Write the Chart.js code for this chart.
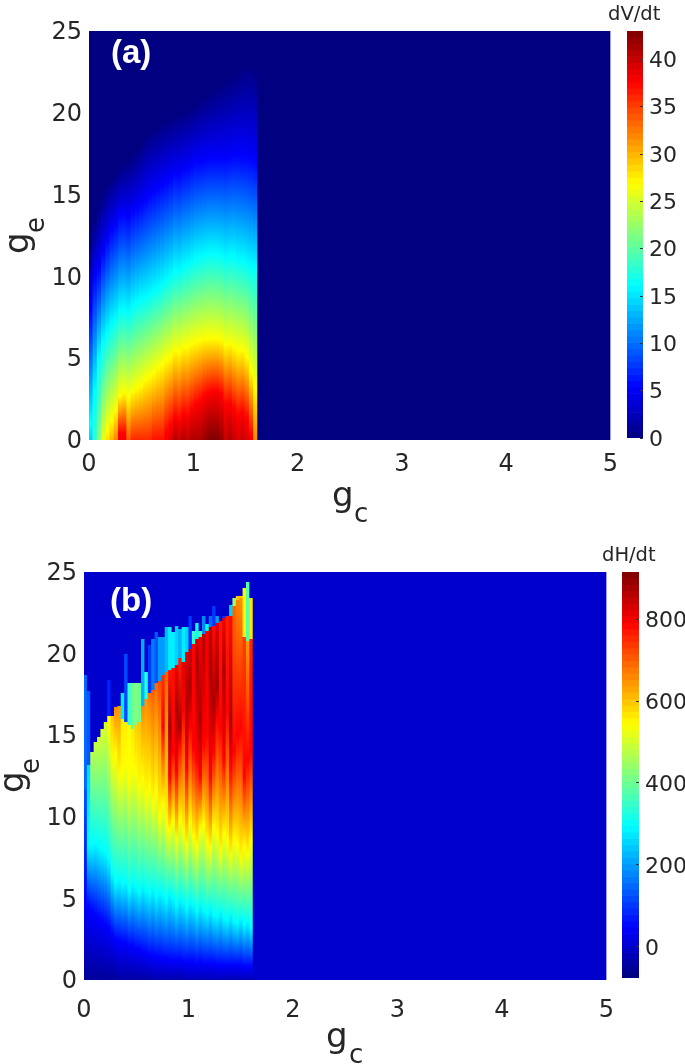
<!DOCTYPE html>
<html>
<head>
<meta charset="utf-8">
<script src="https://cdn.jsdelivr.net/npm/chart.js@4"></script>
<style>
html, body { margin: 0; padding: 0; background: #fff; }
canvas { position: absolute; }
</style>
</head>
<body>
<canvas id="plotA" width="628" height="530" style="left:0;top:0"></canvas>
<canvas id="barA" width="85" height="530" style="left:600px;top:0"></canvas>
<canvas id="plotB" width="630" height="534" style="left:0;top:530px"></canvas>
<canvas id="barB" width="90" height="534" style="left:595px;top:530px"></canvas>
<script>
// ticks
const gcTicks = [0, 1, 2, 3, 4, 5];
const geTicks = [0, 5, 10, 15, 20, 25];

// (a) dV/dt: colour range, and for each gc column the ge height where a colour is reached
const aRange = [0, 43];
const aColWidth = 0.0405;
const aBottom = [14,18,22,26,28,30,32,38,38,34,36,36,36,36,36,37,37,37,38,39,41,40,41,40,41,41,41,42,43,43,43,42,40,41,40,39,40,39,38,32];
const aRed = [0,0,0,0,0,0,0,0.4,0.4,0,0,0,0,0,0,0,0,0,0.5,0.9,1.4,1.2,1.6,1.5,1.9,2.2,2.4,2.7,2.9,3,3,2.8,2.2,2.3,1.9,1.5,1.7,1.3,0.3,0];
const aYellow = [0,0,0,0,0.6,1.2,1.8,2.7,2.9,2.6,3,3.2,3.4,3.7,3.9,4.1,4.4,4.6,4.9,5.1,5.5,5.4,5.7,5.7,5.9,6,6.1,6.2,6.2,6.2,6.2,6.1,5.8,5.9,5.7,5.5,5.5,5.1,4.2,3.2];
const aCyan = [1,3,5,6,6.6,7.1,7.4,7.9,8,7.8,8.2,8.4,8.6,8.7,8.9,9.1,9.3,9.5,9.8,10,10.4,10.3,10.6,10.7,10.9,11.1,11.2,11.3,11.4,11.4,11.4,11.3,11.1,11.2,11.2,11,11,10.8,10.6,10.5];
const aBlue = [8,10,10.5,11.5,12.2,12.8,13.2,13.7,13.8,13.6,14,14.2,14.4,14.7,15,15.2,15.4,15.6,15.8,16,16.3,16.2,16.5,16.6,16.8,17,17,17.1,17.2,17.2,17.2,17.2,17.2,17.3,17.4,17.4,17.3,17.3,17.2,17];
const aTop = [12,13.5,14.5,15.2,15.7,16,16.3,16.6,17,17.1,17.5,17.8,18.1,18.6,18.8,19,19.2,19.4,19.6,19.7,19.9,19.9,20.1,20.2,20.4,20.6,20.8,21,21.2,21.4,21.6,21.8,22,22.2,22.4,22.6,22.8,22.9,23,22.6];

// (b) dH/dt: same idea, with the top of the main body and the thin streak above it
const bRange = [-76, 915];
const bFlat = -2;
const bColWidth = 0.0324;
const bBottom = [-50,-50,-50,-50,-50,-50,-50,-50,-50,-50,-40,-40,-40,-40,-40,-40,-40,-40,-40,-40,-30,-30,-30,-30,-30,-30,-30,-30,-30,-30,-20,-20,-20,-20,-20,-20,-20,-20,-20,-20,-20,-20,-20,-20,-20,-20,-20,-20,-20,-20];
const bBlue = [4.5,4.5,4.2,4,3.8,3.6,3.4,3.2,2.8,2.5,2.4,2.3,2.3,2.1,2.1,1.9,1.9,1.7,1.7,1.5,1.5,1.4,1.4,1.3,1.3,1.2,1.2,1.2,1.2,1.1,1.1,1.1,1.1,1,1.1,1,1,1,1,0.9,0.9,0.9,0.9,0.9,0.9,0.9,0.9,0.8,0.8,0.8];
const bCyan = [0,8.2,8.3,8.4,8.2,8,7.8,7.4,6.5,6,6.2,5.9,6,5.5,5.9,5.7,5.4,5.8,5.5,5.3,5.6,5.1,5.4,5.2,4.9,5.3,5,4.6,5,4.8,4.4,4.8,4.6,4.2,4.6,4.3,4.1,4.4,4,3.9,4.2,3.8,3.7,4,3.6,3.5,3.8,3.4,3.6,3.2];
const bYellow = [0,0,0,0,0,0,0,15.6,13.5,13.8,12.5,12.8,13.2,12.2,13,12.7,11.8,12.3,11.3,11.8,10.8,11.6,10,10.8,9.6,9.2,9.8,8.6,9.9,9.1,8.3,9.7,8.8,8.2,9.3,9.5,8.4,8.1,9.4,8.9,7.8,9,8.5,7.6,8.6,8.3,7.4,8.2,7.7,8.5];
const bRed = [0,0,0,0,0,0,0,0,0,0,0,0,0,0,0,0,0,0,0,0,0,0,0,15.5,0,12.5,14,12.8,14.5,16.5,13,15.5,14.2,13.5,12.5,14.5,15,12.5,14,16,15.5,13.5,16.5,13,14,15,15.5,12.5,13.5,14];
const bDark = [0,0,0,0,0,0,0,0,0,0,0,0,0,0,0,0,0,0,0,0,0,0,0,0,0,15.5,0,16.5,15.5,0,17,18,0,19.5,16,0,0,19,17,18,0,19,0,16,0,0,0,0,0,0];
const bTop = [11.7,13.2,14,14.6,14.9,15.4,15.8,16.2,16.2,16.7,16.8,16,15.8,15.6,15.4,15.6,15.8,16.8,17.2,17.6,17.8,18.2,18.3,18.7,18.9,19,19.1,19.3,19.7,19.5,20.1,20.3,20.6,20.9,21,21.2,21.4,21.6,21.7,21.9,22,22.2,22.3,22.3,22.9,23.3,23.4,21,20.8,20.9];
const bTopValue = [130,260,480,490,500,510,510,530,600,660,650,560,560,540,560,590,600,660,650,680,700,690,720,740,700,770,780,800,760,820,810,840,790,830,800,860,800,850,780,820,770,800,760,780,690,660,650,730,640,760];
const bSpike = [18.7,17.7,14,14.6,14.9,15.4,15.8,18.4,16.2,16.7,16.8,17.6,20,18.2,18.2,18.2,18.2,20.9,18.9,20.5,20.9,21.3,21,21,21.6,21.6,21.3,21.7,21.5,21.6,21.6,22.3,21.4,21.9,21.4,22.3,21.8,22.3,22.9,22.3,22,22.3,22.3,23,23.4,23.5,23.5,24,24.4,23.4];
const bSpikeValue = [150,130,0,0,0,0,0,80,0,0,0,280,120,350,400,420,400,220,330,100,170,130,200,200,230,280,280,250,220,280,250,100,350,300,380,180,300,150,100,200,0,100,0,250,450,600,600,550,380,570];

// colour bars
const aBarTicks = [0, 5, 10, 15, 20, 25, 30, 35, 40];
const bBarTicks = [0, 200, 400, 600, 800];
const colorSteps = 64;

const textColor = '#262626';
const fontName = '"DejaVu Sans"';

// jet colormap
function jet(t) {
    let clamp = c => Math.round(255 * Math.max(0, Math.min(1, c)));
    let r = clamp(Math.min(4 * t - 1.5, -4 * t + 4.5));
    let g = clamp(Math.min(4 * t - 0.5, -4 * t + 3.5));
    let b = clamp(Math.min(4 * t + 0.5, -4 * t + 2.5));
    return `rgb(${r},${g},${b})`;
}

function inRange(range, v) {
    return jet((v - range[0]) / (range[1] - range[0]));
}

// level value at each jet corner colour (blue, cyan, yellow, red)
function cornerValue(range, t) {
    return range[0] + t * (range[1] - range[0]);
}

function stopsForA(i) {
    let stops = [[0, aBottom[i]]];
    [[aRed, 0.875], [aYellow, 0.625], [aCyan, 0.375], [aBlue, 0.125]].forEach(([heights, t]) => {
        if (heights[i] > 0) stops.push([heights[i], cornerValue(aRange, t)]);
    });
    stops.push([aTop[i], aRange[0]], [25, aRange[0]]);
    return stops;
}

function stopsForB(i) {
    let stops = [[0, bBottom[i]]];
    [[bBlue, 0.125], [bCyan, 0.375], [bYellow, 0.625], [bRed, 0.875], [bDark, 0.96]].forEach(([heights, t]) => {
        if (heights[i] > 0 && heights[i] < bTop[i]) stops.push([heights[i], cornerValue(bRange, t)]);
    });
    stops.push([bTop[i], bTopValue[i]]);
    if (bSpike[i] > bTop[i]) {
        stops.push([bTop[i], bSpikeValue[i]], [bSpike[i], bSpikeValue[i]]);
        stops.push([bSpike[i], bFlat]);
    } else {
        stops.push([bTop[i], bFlat]);
    }
    stops.push([25, bFlat]);
    return stops;
}

// texts that Chart.js titles cannot do (subscripts, panel letter)
const panelText = {
    id: 'panelText',
    afterDraw(chart, args, opts) {
        let c = chart.ctx;
        opts.items.forEach(item => {
            c.save();
            c.translate(item.x, item.y);
            c.rotate(item.rotate || 0);
            c.font = item.font;
            c.fillStyle = item.color;
            c.textAlign = 'left';
            c.textBaseline = 'alphabetic';
            c.fillText(item.text, 0, 0);
            c.restore();
        });
    }
};

function makePlot(id, columns, colWidth, stopsFor, range, flat, padRight, padTop, xHeight, yWidth, xPad, items) {
    let centers = [];
    for (let i = 0; i * colWidth < 5 + colWidth; i++) centers.push((i + 0.5) * colWidth);
    return new Chart(document.getElementById(id), {
        type: 'bar',
        data: {
            datasets: [{
                data: centers.map(x => ({ x: x, y: [0, 25] })),
                barPercentage: 1.3,
                categoryPercentage: 1,
                borderWidth: 0,
                backgroundColor(ctx) {
                    let chart = ctx.chart;
                    if (ctx.type !== 'data' || !chart.chartArea || ctx.dataIndex >= columns) {
                        return inRange(range, flat);
                    }
                    let y = chart.scales.y;
                    let y0 = y.getPixelForValue(0), y1 = y.getPixelForValue(25);
                    let grad = chart.ctx.createLinearGradient(0, y0, 0, y1);
                    stopsFor(ctx.dataIndex).forEach(([ge, v]) => {
                        grad.addColorStop(Math.min(1, ge / 25), inRange(range, v));
                    });
                    return grad;
                }
            }]
        },
        options: {
            responsive: false,
            animation: false,
            layout: { autoPadding: false, padding: { top: padTop, right: padRight } },
            plugins: {
                legend: { display: false },
                tooltip: { enabled: false },
                panelText: { items: items }
            },
            scales: {
                x: {
                    type: 'linear', min: 0, max: 5, offset: false,
                    grid: { display: false, drawTicks: false, offset: false }, border: { display: false },
                    afterFit(s) { s.height = xHeight; },
                    afterBuildTicks(s) { s.ticks = gcTicks.map(v => ({ value: v })); },
                    ticks: { color: textColor, font: { family: fontName, size: 24 }, padding: xPad, maxRotation: 0, autoSkip: false }
                },
                y: {
                    type: 'linear', min: 0, max: 25,
                    grid: { display: false, drawTicks: false }, border: { display: false },
                    afterFit(s) { s.width = yWidth; },
                    afterBuildTicks(s) { s.ticks = geTicks.map(v => ({ value: v })); },
                    ticks: { color: textColor, font: { family: fontName, size: 24 }, padding: 7, labelOffset: 2, autoSkip: false }
                }
            }
        },
        plugins: [panelText]
    });
}

function makeColorBar(id, range, ticks, title, padLeft, yWidth, padTop, padBottom, titleX) {
    let step = (range[1] - range[0]) / colorSteps;
    let levels = [];
    for (let i = 0; i < colorSteps; i++) levels.push(range[0] + (i + 0.5) * step);
    return new Chart(document.getElementById(id), {
        type: 'bar',
        data: {
            datasets: [{
                data: levels.map(v => ({ y: v, x: [0, 1] })),
                backgroundColor: levels.map(v => inRange(range, v)),
                barPercentage: 1.1,
                categoryPercentage: 1,
                borderWidth: 0
            }]
        },
        options: {
            indexAxis: 'y',
            responsive: false,
            animation: false,
            layout: { autoPadding: false, padding: { top: padTop, left: padLeft, bottom: padBottom } },
            plugins: {
                legend: { display: false },
                tooltip: { enabled: false },
                panelText: { items: [{ text: title, x: titleX, y: padTop - 11, font: '19.5px ' + fontName, color: textColor }] }
            },
            scales: {
                x: { min: 0, max: 1, display: false, offset: false },
                y: {
                    type: 'linear', position: 'right', min: range[0], max: range[1], offset: false,
                    grid: { drawOnChartArea: false, offset: false, tickLength: -3, color: '#333', z: 1 },
                    border: { display: false },
                    afterFit(s) { s.width = yWidth; },
                    afterBuildTicks(s) { s.ticks = ticks.map(v => ({ value: v })); },
                    ticks: { color: textColor, font: { family: fontName, size: 22 }, padding: 9, labelOffset: 2, autoSkip: false }
                }
            }
        },
        plugins: [panelText]
    });
}

const labelFont = '34px ' + fontName;
const subFont = '26px ' + fontName;
const tagFont = 'bold 33px "Liberation Sans"';

makePlot('plotA', aBottom.length, aColWidth, stopsForA, aRange, aRange[0], 6, 31, 90, 89, 10, [
    { text: '(a)', x: 111, y: 63, font: tagFont, color: '#fff' },
    { text: 'g', x: 28, y: 254, font: labelFont, color: textColor, rotate: -Math.PI / 2 },
    { text: 'e', x: 44, y: 233, font: subFont, color: textColor, rotate: -Math.PI / 2 },
    { text: 'g', x: 332, y: 506, font: labelFont, color: textColor },
    { text: 'c', x: 354, y: 522, font: subFont, color: textColor }
]);
makePlot('plotB', bBottom.length, bColWidth, stopsForB, bRange, bFlat, 12, 42, 84, 84, 16, [
    { text: '(b)', x: 110, y: 81, font: tagFont, color: '#fff' },
    { text: 'g', x: 23, y: 263, font: labelFont, color: textColor, rotate: -Math.PI / 2 },
    { text: 'e', x: 39, y: 244, font: subFont, color: textColor, rotate: -Math.PI / 2 },
    { text: 'g', x: 326, y: 517, font: labelFont, color: textColor },
    { text: 'c', x: 349, y: 533, font: subFont, color: textColor }
]);
makeColorBar('barA', aRange, aBarTicks, 'dV/dt', 27, 42, 31, 92, 8);
makeColorBar('barB', bRange, bBarTicks, 'dH/dt', 27, 46, 42, 86, 7);
</script>
</body>
</html>
